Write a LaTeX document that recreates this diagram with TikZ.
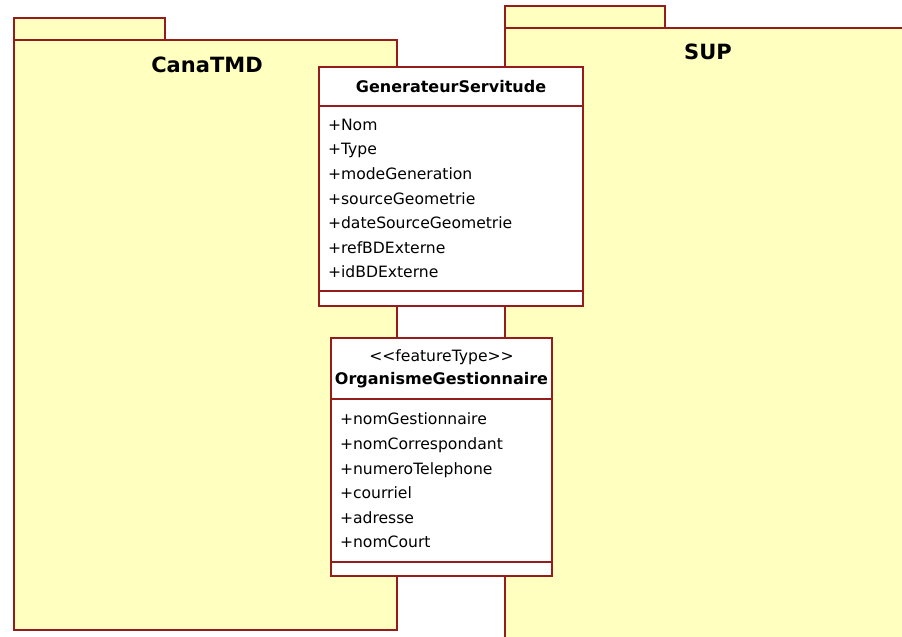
\documentclass[tikz,border=0pt]{standalone}
\usepackage{fontspec}
\setmainfont{DejaVu Sans}
\usetikzlibrary{positioning}
\definecolor{pkgyellow}{RGB}{255,255,192}
\definecolor{umlred}{RGB}{150,28,28}
\tikzset{
  pkg/.style={draw=umlred,fill=pkgyellow,line width=1.4pt},
  pkglbl/.style={font=\bfseries\fontsize{21}{24}\selectfont,inner sep=0pt},
  clsbox/.style={draw=umlred,fill=white,line width=1.4pt,outer sep=0pt,
    inner sep=0pt},
  clshead/.style={clsbox,align=center,font=\fontsize{16}{23}\selectfont},
  clsattr/.style={clsbox,align=left,inner xsep=9pt,
    font=\fontsize{15.6}{24.6}\selectfont},
}
\begin{document}
\begin{tikzpicture}[x=1pt,y=-1pt]
  \useasboundingbox (0,0) rectangle (902,637);
  \clip (0,0) rectangle (902,637);
  % packages
  \draw[pkg] (14,18) rectangle (165,40);
  \draw[pkg] (14,40) rectangle (397,630);
  \node[pkglbl] (canaLbl) at (207,65) {CanaTMD};
  \draw[pkg] (505,6) rectangle (665,28);
  \draw[pkg] (505,28) rectangle (920,660);
  \node[pkglbl] (supLbl) at (708,52) {SUP};

  % classes
  \node[clshead,minimum width=264pt,minimum height=39pt,anchor=north west]
    (gsHead) at (319,67) {\textbf{GenerateurServitude}};
  \node[clsattr,text width=246pt,minimum height=185pt,below=0pt of gsHead]
    (gsAttr) {+Nom\\+Type\\+modeGeneration\\+sourceGeometrie\\
      +dateSourceGeometrie\\+refBDExterne\\+idBDExterne};
  \node[clsbox,minimum width=264pt,minimum height=15pt,below=0pt of gsAttr]
    (gsOps) {};

  \node[clshead,minimum width=221pt,minimum height=61pt,anchor=north west]
    (ogHead) at (331,338)
    {{\fontsize{15.6}{23}\selectfont{<}{<}featureType{>}{>}}\\
     \textbf{OrganismeGestionnaire}};
  \node[clsattr,text width=203pt,minimum height=163pt,below=0pt of ogHead]
    (ogAttr) {+nomGestionnaire\\+nomCorrespondant\\+numeroTelephone\\
      +courriel\\+adresse\\+nomCourt};
  \node[clsbox,minimum width=221pt,minimum height=14pt,below=0pt of ogAttr]
    (ogOps) {};
\end{tikzpicture}
\end{document}
